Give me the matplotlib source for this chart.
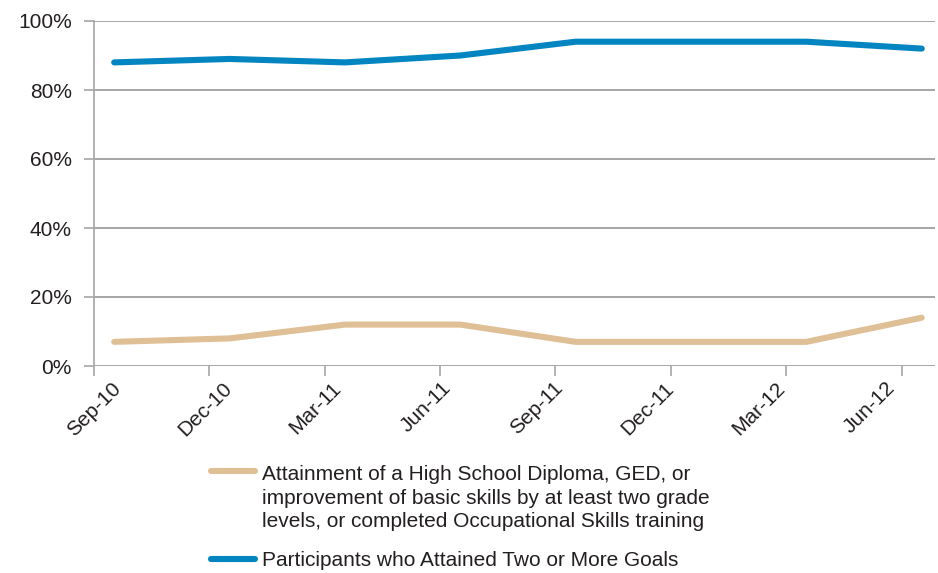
import numpy as np
import matplotlib
matplotlib.use('Agg')
import matplotlib.pyplot as plt
from matplotlib.lines import Line2D
from matplotlib.ticker import FuncFormatter

plt.rcParams['font.family'] = ['Liberation Sans', 'DejaVu Sans']

quarters = ['Sep-10', 'Dec-10', 'Mar-11', 'Jun-11', 'Sep-11', 'Dec-11', 'Mar-12', 'Jun-12']
attainment = [7, 8, 12, 12, 7, 7, 7, 14]
two_or_more = [88, 89, 88, 90, 94, 94, 94, 92]
labels = ['Attainment of a High School Diploma, GED, or\n'
          'improvement of basic skills by at least two grade\n'
          'levels, or completed Occupational Skills training',
          'Participants who Attained Two or More Goals']
colors = ['#DFC096', '#0385C1']
ink = '#231F20'
grid = '#A6A6A6'

W, H = 938, 573
fig = plt.figure(figsize=(W / 100, H / 100), dpi=100)
ax = fig.add_axes([94 / W, 1 - 366 / H, (935 - 94) / W, (366 - 21) / H])

x = np.arange(len(quarters))
offset = 0.175  # points sit a bit right of the month tick
for vals, c in zip([attainment, two_or_more], colors):
    ax.plot(x + offset, vals, color=c, lw=4.4, solid_capstyle='round',
            solid_joinstyle='round', zorder=3)

ax.set_xlim(0, 7.29)
ax.set_ylim(0, 100)
ax.set_yticks(np.arange(0, 101, 20))
ax.yaxis.set_major_formatter(FuncFormatter(lambda v, p: f'{v:.0f}%'))

# tick marks at each quarter, labels drift slightly left like the original
ax.xaxis.remove_overlapping_locs = False
ax.set_xticks(x)
ax.set_xticklabels([])
ax.set_xticks(x * 0.96, minor=True)
ax.set_xticklabels(quarters, minor=True, rotation=45, ha='center', va='top')
ax.tick_params(axis='x', which='minor', length=0, pad=9, labelsize=15,
               labelcolor=ink)

ax.grid(axis='y', color=grid, lw=1.4)
ax.set_axisbelow(True)
for s in ['top', 'right', 'bottom']:
    ax.spines[s].set_visible(False)
ax.spines['left'].set_color(grid)
ax.spines['left'].set_linewidth(1.2)
ax.tick_params(axis='both', which='major', colors=grid, labelcolor=ink,
               labelsize=15, length=7, width=1.2)
ax.tick_params(axis='y', pad=9)

# legend below the chart, handle level with the first text line
for lab, c, hy, ty in zip(labels, colors, [471, 559], [465, 551]):
    fig.add_artist(Line2D([211 / W, 255 / W], [1 - hy / H, 1 - hy / H],
                          color=c, lw=4.4, solid_capstyle='round',
                          transform=fig.transFigure))
    fig.text(262 / W, 1 - ty / H, lab, ha='left', va='top',
             fontsize=15, color=ink, linespacing=1.3)

fig.savefig('out.png', dpi=100)
